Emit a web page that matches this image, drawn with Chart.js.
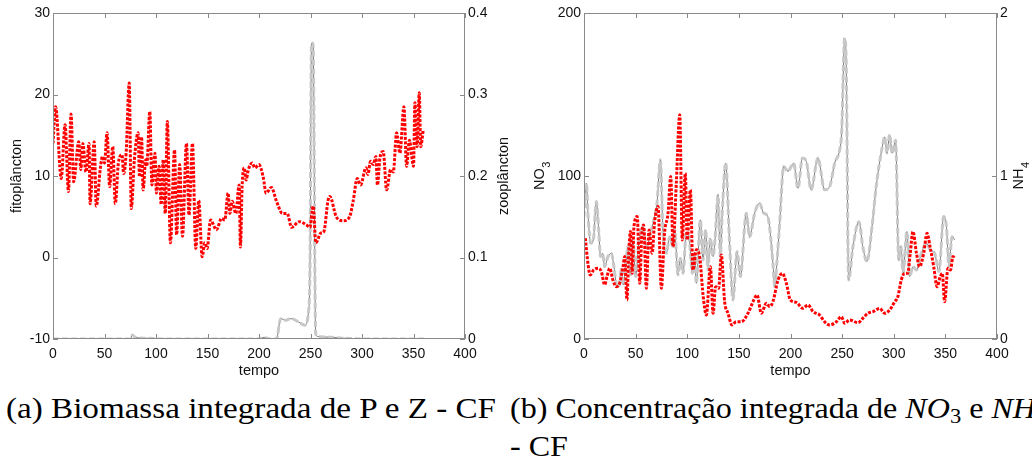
<!DOCTYPE html>
<html>
<head>
<meta charset="utf-8">
<script src="https://cdn.jsdelivr.net/npm/chart.js@4.4.1/dist/chart.umd.min.js"></script>
<style>
  html, body { margin: 0; padding: 0; background: #fff; width: 1032px; height: 459px; overflow: hidden; }
  canvas { position: absolute; top: 0; }
  #cA { left: 0; }
  #cB { left: 516px; }
  .cap { position: absolute; font-family: 'Liberation Serif', serif; font-size: 30px; line-height: 34px; color: #000;
         white-space: nowrap; transform-origin: 0 50%; }
  .cap i { font-style: italic; }
  .cap sub { font-size: 21px; vertical-align: -5px; line-height: 0; }
</style>
</head>
<body>
<canvas id="cA" width="516" height="380"></canvas>
<canvas id="cB" width="516" height="380"></canvas>
<div class="cap" id="capA" style="left:6px; top:391px;">(a) Biomassa integrada de P e Z - CF</div>
<div class="cap" id="capB" style="left:510px; top:391px;"><span id="capBm">(b) Concentração integrada de <i>NO</i><sub>3</sub> e <i>NH</i></span><sub>4</sub></div>
<div class="cap" id="capB2" style="left:510px; top:429px;">- CF</div>
<script>
// (a) fitoplâncton (eixo esquerdo) e zooplâncton (eixo direito)
const tFito = [0,2.5,8,11.7,15,17.5,20,25,27,29,32,35,36,40,42,46,48,50,52.5,55,58,60.5,63.5,67,68.6,71,74,76,79,82.6,84,86,87.5,90,91,94,96,99,100.4,103,105,107,109,111,114,118,120,123,125.7,129.6,132,135.4,138.6,141.5,144.8,147.4,149.6,153,158.7,163.6,166.8,170,171.7,174,177.5,180.7,182,183.6,185.6,187.5,189.5,193.4,196,200,204,207,212,217,222.8,227.4,231.6,239,246,249.4,252.6,255.2,260,263,267,268.8,275,281.8,288,291.5,295.4,298.6,303.8,305.7,308.3,311,313.5,315,317.4,320.6,323.9,327.8,330.4,333.6,336.8,340.7,343.3,346,350,351.4,353.5,355.6,357,359.5];
const fito  = [14,18.5,9.7,16.3,8.1,17.6,9.3,14.2,10.8,14,10.5,14,6.6,14.2,6.3,11,12.4,11.6,15.3,8.7,13.6,6.6,11.6,12.6,10.3,12.8,21.4,6,12,15.3,9.9,14.8,8.3,12,11.2,17.9,8.9,12.8,7.9,11.2,6.5,12,5.4,16.7,1.8,13.2,2.8,11.4,2.6,14,5.2,14,1.1,7,0.1,1.8,1.1,4.6,3.4,4.8,4.6,7.9,5.4,6.9,5.4,8.9,1.3,8.7,11,9.5,10.7,11.6,11,11.4,9.9,7.9,8.6,6.9,5.4,5.4,3.7,4.4,4,3.7,6.3,1.8,3,3.2,7,7.5,5,4.5,5,7,9.7,8.9,11,10.2,11.8,11.4,12.4,8.9,12.2,13,8.3,10.8,10.5,15.3,12.8,18.5,11.2,14.4,11.2,19,13.6,20.2,13.6,15.7];
const tZoo  = [0,75,77,80,90,110,200,205,210,217,221,226,231,241,244.5,248,249.5,251,252.5,255,257,270,300,360];
const zoo   = [0,0,0.005,0.002,0.001,0,0,0.002,0,0,0.025,0.023,0.025,0.019,0.017,0.033,0.09,0.363,0.363,0.007,0.003,0.002,0,0];

// (b) NO3 (eixo esquerdo) e NH4 (eixo direito)
const tNO3 = [1.3,4,6,9.4,13.6,16.8,20,22.3,24.9,28,31.3,34.5,37.8,39.4,41.6,43.3,45,46.7,48.4,51.6,54,56,57.8,60.4,63,66,68.4,71.7,74.9,78,81.4,84,86.2,89.4,92.7,95.2,98.1,100,103,105.6,108.8,112,115.3,118.5,122.4,125,127.5,130.4,133,136.2,139.5,143.3,147.5,152.4,158.8,163.7,167.6,171.7,176.6,179.8,183,187.9,192,196,199.8,205.6,212,217,221.8,228.2,233,238,244.4,249.2,252.5,257.3,265.4,270,275,280,286.4,291.2,296,301,304,307.3,310.6,313.5,316,318.6,322,325,329,332.2,335.4,338.7,342,345,347,349.3,352.5,355,357.4,359];
const no3  = [61.8,45.4,39.3,42.4,43.4,41.4,33.2,38.3,43.4,36.2,32.1,34.2,44.4,50.6,24,52.6,65.9,40.3,69,75.1,34.2,64.9,70,31.1,66.9,52.6,72,81.3,31.1,64.9,77.2,99.7,56.7,95.6,137.6,60.8,101.7,60.8,91.5,42.4,54.7,50.6,27,14.7,44.4,15.8,32.1,31.1,51.6,22.9,15.8,8.6,10.6,10.6,15.8,22.9,27,15.8,21.9,19.9,22.9,36.2,40.3,34.2,24,22.5,18.8,20.9,16.8,14.7,10.6,8.6,10.6,13.7,9.6,11.7,10,12.7,15.8,16.8,18.8,15.8,17.8,22.9,26,36.2,40.3,40.3,52.6,65.9,52.6,44.4,52.6,64.9,55.7,44.4,32.1,38.3,40.3,22.9,43.4,42.4,50.6,49.5];
const tNH4 = [0,2.3,4,6.5,9,12,14.2,16,18,20,23.2,26.5,29,32,34.5,36,38,40.4,42.6,45,47.5,50,53,56.5,60.4,65.2,68.4,70.7,74,76.5,79.7,83,86,87.8,91,93.3,95.9,99,102,105,107,108.8,112.7,115.3,117.8,120,122.4,125,127,129.8,132,134,137.2,141,144.3,148.2,151.4,157.2,160.4,165.3,170,174,178,183,184.7,187,189.5,193.4,197.6,200.6,203,207.3,211.5,215.3,220,226.6,233,238,242.8,247.6,249.5,252.5,254,256.3,260.5,266.3,270,274,279.3,283,288.9,291.2,293.5,296,298.5,301.8,304.8,307,309,312.8,315.4,318.6,322,326.7,331.5,335.4,339.6,343.8,348.3,351,353.5,356.4,359];
const nh4  = [0.75,0.956,0.75,0.588,0.608,0.843,0.67,0.506,0.526,0.444,0.506,0.526,0.444,0.321,0.342,0.434,0.332,0.465,0.567,0.393,0.608,0.383,0.588,0.69,0.567,0.67,0.751,0.833,1.10,0.649,0.526,0.628,0.567,0.67,0.393,0.495,0.403,0.649,0.608,0.403,0.526,0.342,0.731,0.485,0.67,0.424,0.618,0.506,0.618,0.884,0.506,0.792,1.079,0.588,0.24,0.536,0.383,0.772,0.628,0.772,0.833,0.772,0.751,0.465,0.321,0.485,0.71,1.058,1.028,1.058,1.079,0.925,1.11,1.089,0.915,1.11,0.915,0.936,1.079,1.16,1.263,1.846,1.67,0.362,0.567,0.72,0.567,0.475,0.71,0.936,1.18,1.24,1.14,1.253,1.14,1.22,0.485,0.567,0.403,0.659,0.383,0.444,0.424,0.526,0.588,0.547,0.526,0.414,0.751,0.69,0.444,0.628,0.608];

const RED = '#ff0000', GREY_L = '#c8c8c8', GREY_D = '#7a7a7a', FRAME = '#8a8a8a';
const TICK = 5;
const LBL = "14.5px 'Liberation Sans'", SUB = "11px 'Liberation Sans'";

Chart.defaults.font.family = "'Liberation Sans', Arial, sans-serif";
Chart.defaults.font.size = 14;
Chart.defaults.color = '#111';

const pts = (ts, vs) => ts.map((t, i) => ({ x: t, y: vs[i] }));

// linhas: vermelho pontilhado grosso, cinza tracejado claro sobre fio escuro
const redLine  = (data) => ({ data, yAxisID: 'y', borderColor: RED, borderWidth: 3, borderDash: [3, 1.5], pointRadius: 0, cubicInterpolationMode: 'monotone', order: 1 });
const greyThin = (data) => ({ data, yAxisID: 'y1', borderColor: GREY_D, borderWidth: 1, pointRadius: 0, cubicInterpolationMode: 'monotone', order: 3 });
const greyDash = (data) => ({ data, yAxisID: 'y1', borderColor: GREY_L, borderWidth: 3, borderDash: [6, 3], pointRadius: 0, cubicInterpolationMode: 'monotone', order: 2 });

// moldura, ticks para dentro e títulos dos eixos (com subscrito)
const frameTicks = {
  id: 'frameTicks',
  afterDatasetsDraw(chart, args, opts) {
    const { ctx, chartArea: a, scales } = chart;
    ctx.save();
    ctx.strokeStyle = FRAME; ctx.lineWidth = 1;
    ctx.strokeRect(Math.round(a.left) + 0.5, Math.round(a.top) + 0.5, Math.round(a.width) - 1, Math.round(a.height) - 1);
    ctx.beginPath();
    scales.x.ticks.forEach(t => {
      const p = Math.round(scales.x.getPixelForValue(t.value)) + 0.5;
      ctx.moveTo(p, a.bottom); ctx.lineTo(p, a.bottom - TICK);
      ctx.moveTo(p, a.top); ctx.lineTo(p, a.top + TICK);
    });
    scales.y.ticks.forEach(t => {
      const p = Math.round(scales.y.getPixelForValue(t.value)) + 0.5;
      ctx.moveTo(a.left, p); ctx.lineTo(a.left + TICK, p);
    });
    scales.y1.ticks.forEach(t => {
      const p = Math.round(scales.y1.getPixelForValue(t.value)) + 0.5;
      ctx.moveTo(a.right, p); ctx.lineTo(a.right - TICK, p);
    });
    ctx.stroke();

    ctx.fillStyle = '#111';
    ctx.textBaseline = 'middle';
    const midY = (a.top + a.bottom) / 2;
    const vert = (x, main, sub) => {
      ctx.save();
      ctx.translate(x, midY);
      ctx.rotate(-Math.PI / 2);
      ctx.font = LBL;
      const wm = ctx.measureText(main).width;
      ctx.font = SUB;
      const ws = sub ? ctx.measureText(sub).width : 0;
      const x0 = -(wm + ws) / 2;
      ctx.font = LBL;
      ctx.textAlign = 'left';
      ctx.fillText(main, x0, 0);
      if (sub) { ctx.font = SUB; ctx.fillText(sub, x0 + wm + 0.5, 7); }
      ctx.restore();
    };
    vert(opts.leftX, opts.left[0], opts.left[1]);
    vert(opts.rightX, opts.right[0], opts.right[1]);
    ctx.font = LBL;
    ctx.textAlign = 'center';
    ctx.fillText('tempo', (a.left + a.right) / 2, opts.bottomY);
    ctx.restore();
  }
};

const noGrid = { display: false, drawTicks: false, tickLength: 0 };

function makeChart(id, datasets, yr, y1r, wLeft, wRight, titles) {
  return new Chart(document.getElementById(id), {
    type: 'line',
    data: { datasets },
    plugins: [frameTicks],
    options: {
      responsive: false,
      animation: false,
      layout: { padding: { top: 13, left: 0, right: 0, bottom: 0 } },
      plugins: { legend: { display: false }, tooltip: { enabled: false }, frameTicks: titles },
      scales: {
        x: { type: 'linear', min: 0, max: 400, grid: noGrid, border: { display: false },
             ticks: { stepSize: 50, padding: 7, maxRotation: 0 },
             afterFit: s => { s.height = 41; } },
        y: { position: 'left', min: yr[0], max: yr[1], grid: noGrid, border: { display: false },
             ticks: { stepSize: yr[2], padding: 3 },
             afterFit: s => { s.width = wLeft; } },
        y1: { position: 'right', min: y1r[0], max: y1r[1], grid: noGrid, border: { display: false },
              ticks: { stepSize: y1r[2], padding: 3 },
              afterFit: s => { s.width = wRight; } }
      }
    }
  });
}

makeChart('cA',
  [redLine(pts(tFito, fito)), greyDash(pts(tZoo, zoo)), greyThin(pts(tZoo, zoo))],
  [-10, 30, 10], [0, 0.4, 0.1], 53, 51,
  { left: ['fitoplâncton', ''], right: ['zooplâncton', ''], leftX: 17, rightX: 504, bottomY: 371 });

makeChart('cB',
  [redLine(pts(tNO3, no3)), greyDash(pts(tNH4, nh4)), greyThin(pts(tNH4, nh4))],
  [0, 200, 100], [0, 2, 1], 68, 35,
  { left: ['NO', '3'], right: ['NH', '4'], leftX: 24, rightX: 503, bottomY: 371 });

// legendas: (a) ocupa a largura da subfigura, (b) vai até à borda direita
const kA = 490 / document.getElementById('capA').getBoundingClientRect().width;
document.getElementById('capA').style.transform = `scaleX(${kA})`;
const kB = 526 / document.getElementById('capBm').getBoundingClientRect().width;
['capB', 'capB2'].forEach(id => { document.getElementById(id).style.transform = `scaleX(${kB})`; });
</script>
</body>
</html>
